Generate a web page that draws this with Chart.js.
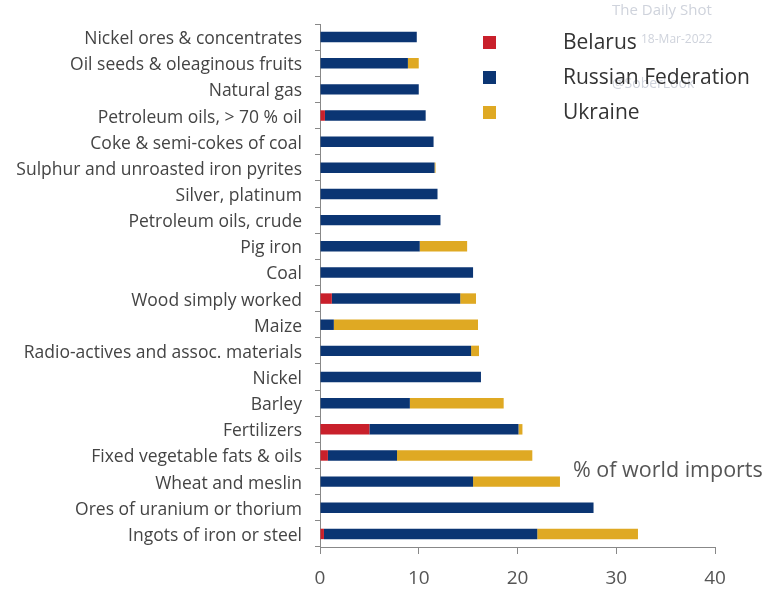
<!DOCTYPE html>
<html>
<head>
<meta charset="utf-8">
<script src="https://cdn.jsdelivr.net/npm/chart.js@4"></script>
<style>
  html, body { margin: 0; padding: 0; background: #ffffff; }
  #wrap { width: 765px; height: 589px; }
</style>
</head>
<body>
<div id="wrap"><canvas id="c" width="765" height="589"></canvas></div>
<script>
// Share of world imports supplied, by product (%)
const categories = [
  "Nickel ores & concentrates",
  "Oil seeds & oleaginous fruits",
  "Natural gas",
  "Petroleum oils, > 70 % oil",
  "Coke & semi-cokes of coal",
  "Sulphur and unroasted iron pyrites",
  "Silver, platinum",
  "Petroleum oils, crude",
  "Pig iron",
  "Coal",
  "Wood simply worked",
  "Maize",
  "Radio-actives and assoc. materials",
  "Nickel",
  "Barley",
  "Fertilizers",
  "Fixed vegetable fats & oils",
  "Wheat and meslin",
  "Ores of uranium or thorium",
  "Ingots of iron or steel"
];

const belarus = [0, 0, 0, 0.5, 0, 0, 0, 0, 0, 0, 1.2, 0, 0, 0, 0, 5.0, 0.8, 0, 0, 0.4];
const russia  = [9.8, 8.9, 10.0, 10.2, 11.5, 11.6, 11.9, 12.2, 10.1, 15.5, 13.0, 1.4, 15.3, 16.3, 9.1, 15.1, 7.0, 15.5, 27.7, 21.6];
const ukraine = [0, 1.1, 0, 0, 0, 0.1, 0, 0, 4.8, 0, 1.6, 14.6, 0.8, 0, 9.5, 0.4, 13.7, 8.8, 0, 10.2];

const seriesNames = ["Belarus", "Russian Federation", "Ukraine"];
const seriesColors = ["#c9202b", "#0b3573", "#dfa923"];
const xTicks = [0, 10, 20, 30, 40];
const axisTitle = "% of world imports";
const stamp = ["The Daily Shot", "18-Mar-2022", "@SoberLook"];

const FONT = "'Open Sans', 'Noto Sans', sans-serif";

// faint source stamp in the upper right corner
const stampPlugin = {
  id: 'stamp',
  beforeDraw(chart) {
    const ctx = chart.ctx;
    ctx.save();
    ctx.fillStyle = '#cfd3dc';
    ctx.textBaseline = 'middle';
    ctx.textAlign = 'left';
    ctx.font = "15px " + FONT;
    ctx.fillText(stamp[0], 612, 11);
    ctx.font = "12px " + FONT;
    ctx.fillText(stamp[1], 641, 40);
    ctx.font = "14px " + FONT;
    ctx.fillText(stamp[2], 612, 84);
    ctx.restore();
  }
};

// legend squares + names, and the axis caption
const notesPlugin = {
  id: 'notes',
  afterDraw(chart) {
    const ctx = chart.ctx;
    ctx.save();
    chart.data.datasets.forEach((ds, i) => {
      const cy = 42 + i * 35;
      ctx.fillStyle = ds.backgroundColor;
      ctx.fillRect(483, cy - 6, 13, 13);
      ctx.fillStyle = '#333333';
      ctx.font = "21px " + FONT;
      ctx.textBaseline = 'middle';
      ctx.textAlign = 'left';
      ctx.fillText(ds.label, 563, cy + 1);
    });
    ctx.fillStyle = '#555555';
    ctx.font = "21.5px " + FONT;
    ctx.textBaseline = 'middle';
    ctx.fillText(axisTitle, 573, 471);
    ctx.restore();
  }
};

const datasets = [belarus, russia, ukraine].map((vals, i) => ({
  label: seriesNames[i],
  data: vals,
  backgroundColor: seriesColors[i],
  borderWidth: 0,
  barPercentage: 0.4,
  categoryPercentage: 1.0
}));

new Chart(document.getElementById('c'), {
  type: 'bar',
  data: { labels: categories, datasets },
  options: {
    indexAxis: 'y',
    responsive: false,
    animation: false,
    layout: { padding: { top: 24, right: 50, left: 0, bottom: 0 } },
    plugins: {
      legend: { display: false },
      tooltip: { enabled: false }
    },
    scales: {
      x: {
        stacked: true,
        min: 0,
        max: 40,
        afterBuildTicks(scale) { scale.ticks = xTicks.map(v => ({ value: v })); },
        afterFit(scale) { scale.height = 42; },
        grid: { drawOnChartArea: false, drawTicks: true, tickLength: 7, color: '#888888' },
        border: { display: true, color: '#888888' },
        ticks: { color: '#555555', font: { family: FONT, size: 19 }, padding: 13 }
      },
      y: {
        stacked: true,
        afterFit(scale) { scale.width = 320; },
        grid: { drawOnChartArea: false, drawTicks: true, tickLength: 5, color: '#888888', offset: true },
        border: { display: true, color: '#888888' },
        ticks: { color: '#444444', font: { family: FONT, size: 17.5 }, padding: 13, labelOffset: 2, autoSkip: false }
      }
    }
  },
  plugins: [stampPlugin, notesPlugin]
});
</script>
</body>
</html>
